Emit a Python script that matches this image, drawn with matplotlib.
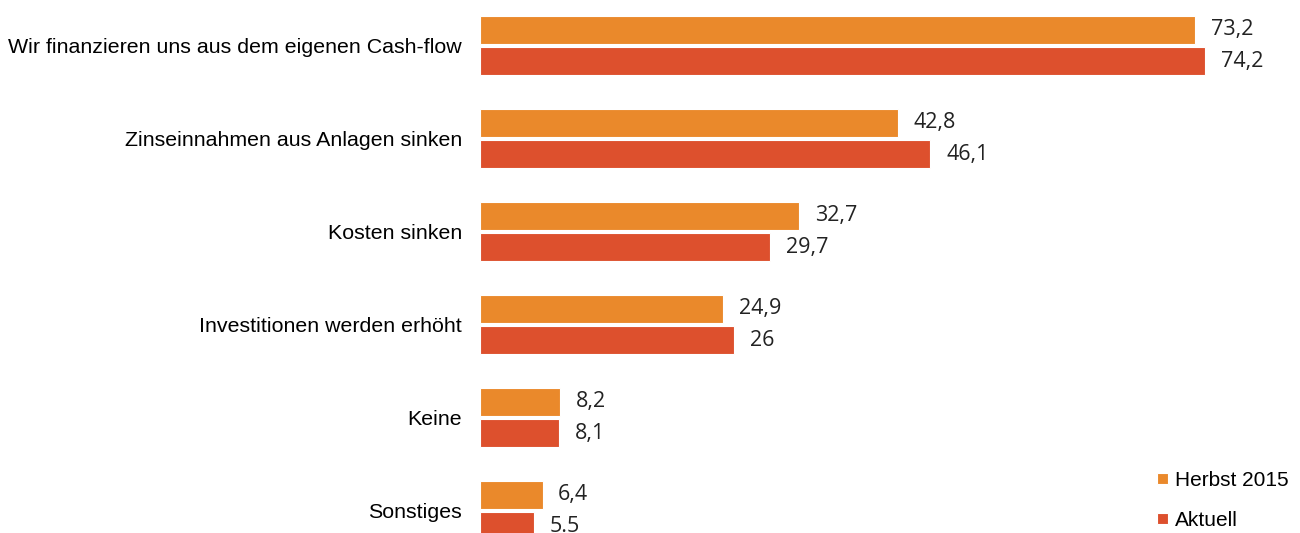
import numpy as np
import matplotlib.pyplot as plt

# Daten
kategorien = ["Wir finanzieren uns aus dem eigenen Cash-flow",
              "Zinseinnahmen aus Anlagen sinken",
              "Kosten sinken",
              "Investitionen werden erhöht",
              "Keine",
              "Sonstiges"]
herbst_2015 = [73.2, 42.8, 32.7, 24.9, 8.2, 6.4]
aktuell = [74.2, 46.1, 29.7, 26.0, 8.1, 5.5]
labels_herbst = ["73,2", "42,8", "32,7", "24,9", "8,2", "6,4"]
labels_aktuell = ["74,2", "46,1", "29,7", "26", "8,1", "5.5"]

c_orange = "#EA892B"
c_rot = "#DD502D"

fig = plt.figure(figsize=(13, 5.33), dpi=100)
ax = fig.add_axes([480 / 1300, 0, 820 / 1300, 1])

y = np.arange(len(kategorien))
h = 0.30
off = 0.167

ax.barh(y - off, herbst_2015, height=h, color=c_orange, edgecolor="white",
        linewidth=0.8, label="Herbst 2015")
ax.barh(y + off, aktuell, height=h, color=c_rot, edgecolor="white",
        linewidth=0.8, label="Aktuell")

# Werte neben den Balken
for i in range(len(kategorien)):
    ax.text(herbst_2015[i] + 1.6, y[i] - off, labels_herbst[i], va="center",
            ha="left", fontsize=15.5, family="Open Sans", color="#222222")
    ax.text(aktuell[i] + 1.6, y[i] + off, labels_aktuell[i], va="center",
            ha="left", fontsize=15.5, family="Open Sans", color="#222222")

ax.set_xlim(0, 820 / 9.77)
ax.set_ylim(5.242, -0.489)
ax.set_yticks(y)
ax.set_yticklabels(kategorien, fontsize=15.4, family="Liberation Sans")
ax.tick_params(axis="y", length=0, pad=13)
ax.set_xticks([])
for s in ax.spines.values():
    s.set_visible(False)

ax.legend(loc="lower right", bbox_to_anchor=(0.99, 0.0), frameon=False,
          handlelength=0.5, handleheight=0.45, handletextpad=0.35,
          labelspacing=1.0, borderaxespad=0.0, borderpad=0.15,
          prop={"family": "Liberation Sans", "size": 15})

fig.savefig("out.png", dpi=100)
